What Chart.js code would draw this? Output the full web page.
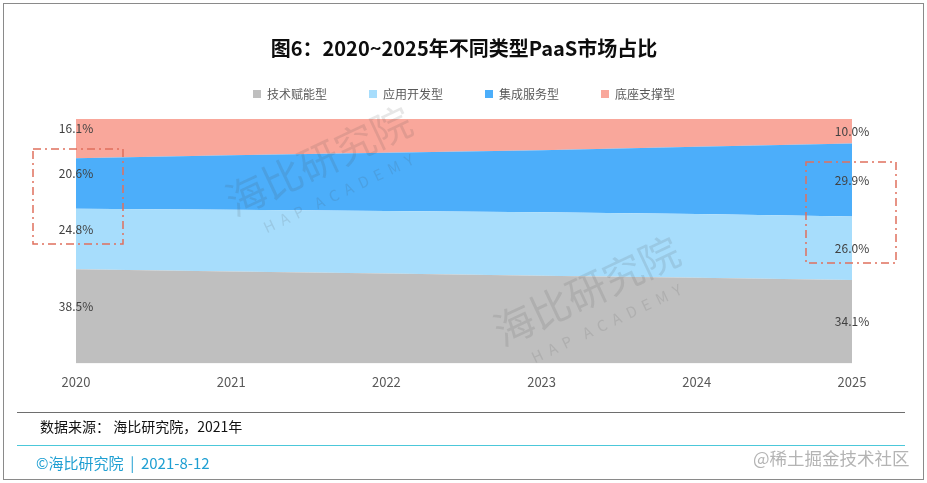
<!DOCTYPE html>
<html>
<head>
<meta charset="utf-8">
<script src="https://cdn.jsdelivr.net/npm/chart.js@4/dist/chart.umd.min.js"></script>
<style>
  html, body { margin: 0; padding: 0; background: #fff; }
  #wrap { position: relative; width: 927px; height: 483px; overflow: hidden;
          font-family: 'Noto Sans CJK SC', 'Noto Sans', sans-serif; }
  #chart { position: absolute; left: 0; top: 0; }
  .frame { position: absolute; left: 3px; top: 3px; width: 919px; height: 475px; border: 1px solid #8a8a8a; }
  .rule { position: absolute; left: 17px; width: 888px; height: 1px; }
  .txt { position: absolute; white-space: nowrap; line-height: 1; }
</style>
</head>
<body>
<div id="wrap">
  <canvas id="chart" width="927" height="483"></canvas>
  <div class="frame"></div>
  <div class="rule" style="top:412px;background:#6e6e6e;"></div>
  <div class="txt" style="left:40px;top:419px;font-size:14px;color:#111;">数据来源： 海比研究院，2021年</div>
  <div class="rule" style="top:445px;background:#4cc8da;"></div>
  <div class="txt" style="left:36px;top:455px;font-size:15px;color:#1f9fd2;">©海比研究院&nbsp;&nbsp;|&nbsp;&nbsp;2021-8-12</div>
  <div class="txt" style="left:753px;top:449px;font-size:17.5px;color:#b4b4b4;">@稀土掘金技术社区</div>
</div>
<script>
// 图6：2020~2025年不同类型PaaS市场占比 (100% stacked area)
const years = ['2020', '2021', '2022', '2023', '2024', '2025'];
const seriesNames = ['技术赋能型', '应用开发型', '集成服务型', '底座支撑型'];
const techEnable = [38.5, 37.6, 36.8, 35.9, 35.0, 34.1];
const appDev = [24.8, 25.3, 25.6, 25.9, 26.1, 26.0];
const integration = [20.6, 22.3, 23.8, 25.4, 27.5, 29.9];
const basePlatform = [16.1, 14.8, 13.8, 12.8, 11.4, 10.0];
const colors = ['#bfbfbf', '#a7ddfc', '#4caefa', '#f9a79b'];

const FONT = "'Noto Sans CJK SC', 'Noto Sans', sans-serif";

// percentage labels at the first and last year
const endLabels = {
  id: 'endLabels',
  afterDatasetsDraw(chart) {
    const { ctx, scales: { x, y } } = chart;
    ctx.save();
    ctx.font = '12px ' + FONT;
    ctx.fillStyle = '#404040';
    ctx.textAlign = 'center';
    ctx.textBaseline = 'middle';
    const last = years.length - 1;
    [0, last].forEach(i => {
      let below = 0;
      chart.data.datasets.forEach(ds => {
        const v = ds.data[i];
        const py = y.getPixelForValue(below + v / 2) + (i === 0 ? -10 : 0);
        ctx.fillText(v.toFixed(1) + '%', x.getPixelForValue(i), py);
        below += v;
      });
    });
    ctx.restore();
  }
};

// faint watermark
const watermark = {
  id: 'watermark',
  afterDatasetsDraw(chart) {
    const { ctx } = chart;
    const marks = [[322, 168], [590, 298]];
    ctx.save();
    marks.forEach(([cx, cy]) => {
      ctx.save();
      ctx.translate(cx, cy);
      ctx.rotate(-0.44);
      ctx.fillStyle = 'rgba(70,70,70,0.13)';
      ctx.textAlign = 'center';
      ctx.textBaseline = 'middle';
      ctx.font = '40px ' + FONT;
      ctx.fillText('海比研究院', 0, -8);
      ctx.font = '15px ' + FONT;
      ctx.fillText('H  A  P    A  C  A  D  E  M  Y', 4, 30);
      ctx.restore();
    });
    ctx.restore();
  }
};

// red dash-dot highlight boxes
const highlightBoxes = {
  id: 'highlightBoxes',
  afterDraw(chart) {
    const { ctx, scales: { x } } = chart;
    const x0 = x.getPixelForValue(0);
    const x1 = x.getPixelForValue(years.length - 1);
    ctx.save();
    ctx.strokeStyle = '#e0705e';
    ctx.lineWidth = 1.5;
    ctx.setLineDash([8, 4, 2, 4]);
    ctx.strokeRect(x0 - 43, 149, 90, 95);
    ctx.strokeRect(x1 - 46, 162, 90, 101);
    ctx.restore();
  }
};

const dataSeries = [techEnable, appDev, integration, basePlatform];

new Chart(document.getElementById('chart').getContext('2d'), {
  type: 'line',
  data: {
    labels: years,
    datasets: dataSeries.map((d, i) => ({
      label: seriesNames[i],
      data: d,
      backgroundColor: colors[i],
      borderColor: colors[i],
      borderWidth: 0,
      pointRadius: 0,
      fill: i === 0 ? 'origin' : '-1',
      tension: 0
    }))
  },
  options: {
    responsive: false,
    animation: false,
    layout: { padding: { left: 76, right: 75, top: 0, bottom: 82 } },
    plugins: {
      title: {
        display: true,
        text: '图6：2020~2025年不同类型PaaS市场占比',
        color: '#0d0d0d',
        font: { family: FONT, size: 20, weight: 'bold' },
        padding: { top: 36, bottom: -14 }
      },
      legend: {
        display: true,
        labels: {
          boxWidth: 8,
          boxHeight: 8,
          padding: 42,
          color: '#595959',
          font: { family: FONT, size: 12 }
        }
      },
      tooltip: { enabled: false }
    },
    scales: {
      x: {
        grid: { display: false, drawTicks: false },
        border: { display: false },
        ticks: { color: '#595959', font: { family: FONT, size: 13 }, padding: 11 }
      },
      // empty spacer axis between legend and plot
      xTop: {
        type: 'category',
        position: 'top',
        grid: { display: false, drawTicks: false },
        border: { display: false },
        ticks: { display: false },
        afterFit(scale) { scale.height = 9; }
      },
      y: {
        stacked: true,
        min: 0,
        max: 100,
        display: false
      }
    }
  },
  plugins: [endLabels, watermark, highlightBoxes]
});
</script>
</body>
</html>
